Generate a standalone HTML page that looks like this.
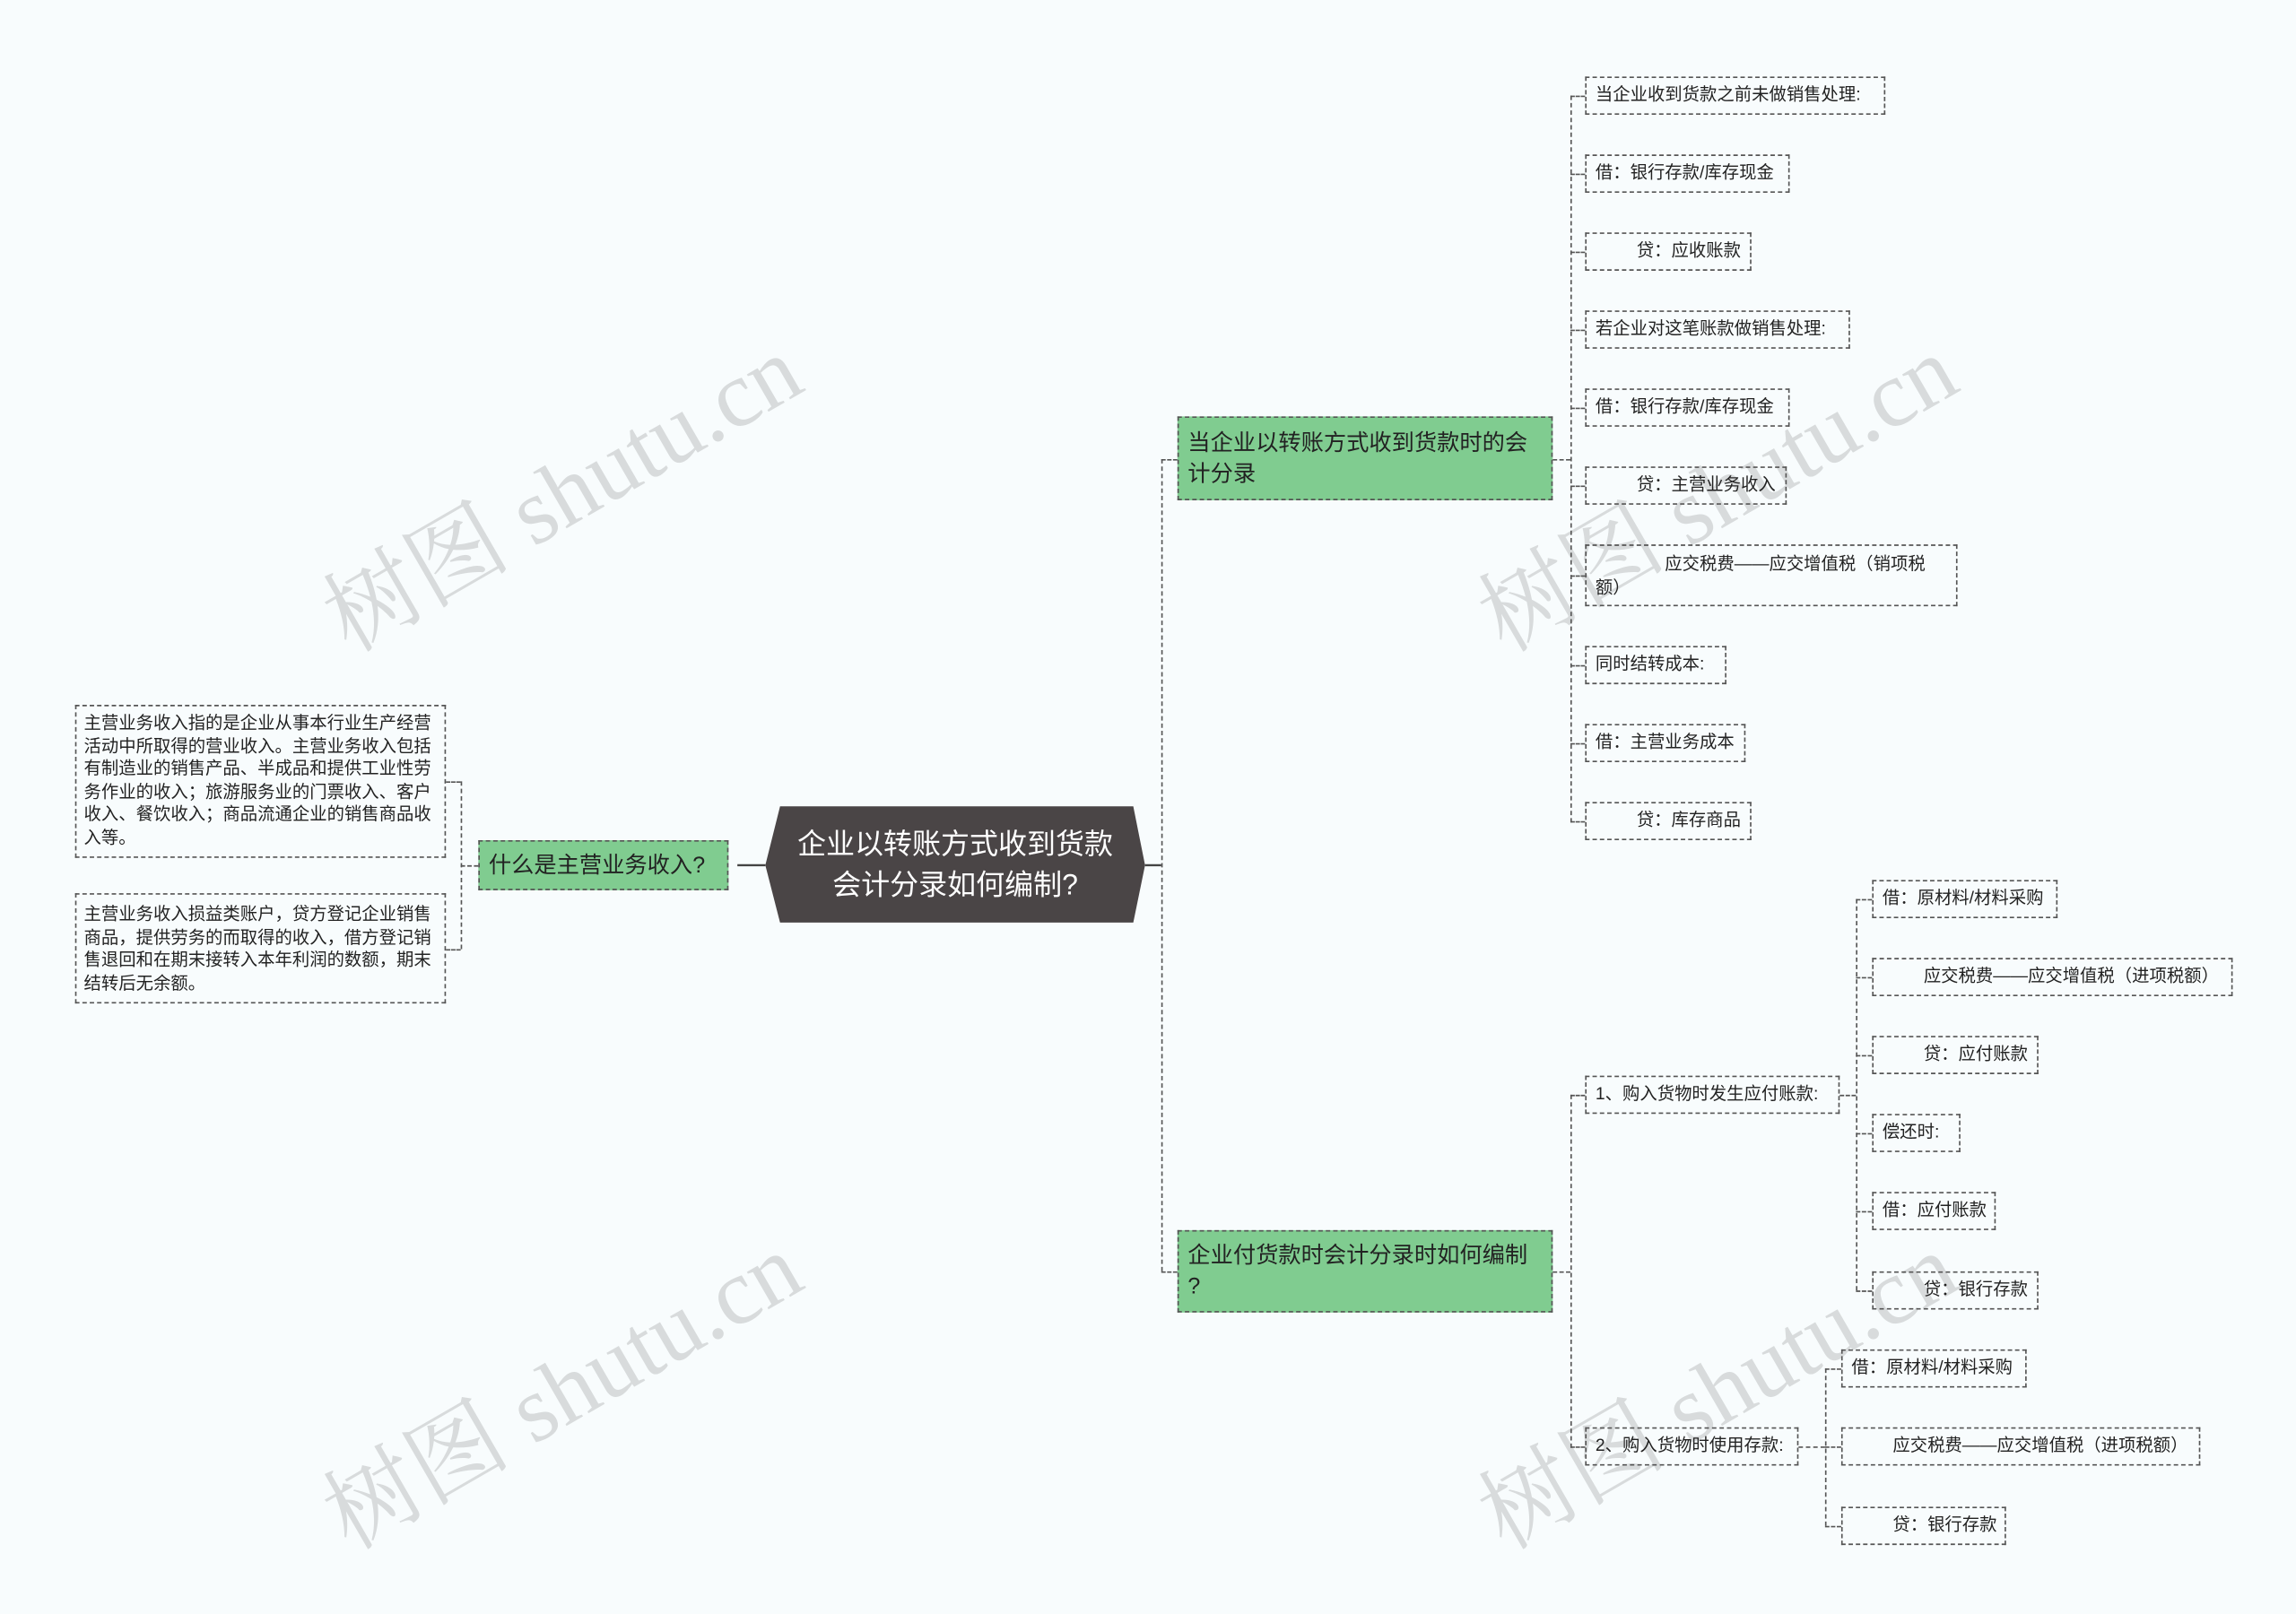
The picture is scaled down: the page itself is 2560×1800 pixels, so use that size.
<!DOCTYPE html>
<html><head><meta charset="utf-8"><style>
html,body{margin:0;padding:0;background:#f8fcfd;}
body{width:2560px;height:1799px;overflow:hidden;position:relative;}
#c{position:absolute;left:0;top:0;width:1560px;height:1096.3px;transform:scale(1.641026);transform-origin:0 0;font-family:"Liberation Sans","Noto Sans CJK SC",sans-serif;}
.b{position:absolute;box-sizing:border-box;border:1px dashed #555;font-size:11.8px;color:#222;line-height:15.5px;padding:5px 6px;white-space:nowrap;display:flex;align-items:center;}
.g{background:#80cc90;font-size:15.4px;line-height:21px;color:#222;white-space:normal;padding-right:14px;}
.t{white-space:normal;display:block;}
.vl{position:absolute;border-left:1px dashed #555;width:0;}
.hl{position:absolute;border-top:1px dashed #555;height:0;}
.wm{position:absolute;font-family:"Liberation Serif","Noto Serif CJK SC",serif;font-size:64px;color:rgba(0,0,0,0.13);transform:rotate(-30deg);white-space:nowrap;}
</style></head><body><div id="c">

<div class="wm" style="left:200px;top:285px;">树图 shutu.cn</div>
<div class="wm" style="left:985px;top:285px;">树图 shutu.cn</div>
<div class="wm" style="left:200px;top:895px;">树图 shutu.cn</div>
<div class="wm" style="left:985px;top:895px;">树图 shutu.cn</div>

<svg style="position:absolute;left:0;top:0" width="1560" height="1097">
<polygon points="530,548 770,548 778,588 770,627 530,627 520,588" fill="#4a4546"/>
<line x1="501" y1="588" x2="520" y2="588" stroke="#444" stroke-width="1.5"/>
<line x1="778" y1="588" x2="789" y2="588" stroke="#444" stroke-width="1.5"/>
</svg>
<div style="position:absolute;left:520px;top:548px;width:258px;height:79px;display:flex;align-items:center;justify-content:center;text-align:center;color:#fff;font-size:19.5px;line-height:28px;">企业以转账方式收到货款<br>会计分录如何编制?</div>

<div class="b g" style="left:325px;top:571px;width:170px;height:34px;padding-right:6px;">什么是主营业务收入?</div>
<div class="vl" style="left:313px;top:531px;height:114px;"></div>
<div class="hl" style="left:303px;top:531px;width:10px;"></div>
<div class="hl" style="left:303px;top:645px;width:10px;"></div>
<div class="hl" style="left:313px;top:588px;width:12px;"></div>
<div class="b t" style="left:51px;top:479px;width:252px;height:104px;padding:4px 5px;">主营业务收入指的是企业从事本行业生产经营活动中所取得的营业收入。主营业务收入包括有制造业的销售产品、半成品和提供工业性劳务作业的收入；旅游服务业的门票收入、客户收入、餐饮收入；商品流通企业的销售商品收入等。</div>
<div class="b t" style="left:51px;top:607px;width:252px;height:75px;padding:6px 5px;">主营业务收入损益类账户，贷方登记企业销售商品，提供劳务的而取得的收入，借方登记销售退回和在期末接转入本年利润的数额，期末结转后无余额。</div>

<div class="vl" style="left:789px;top:312px;height:552px;"></div>
<div class="hl" style="left:789px;top:312px;width:11px;"></div>
<div class="hl" style="left:789px;top:864px;width:11px;"></div>
<div class="b g" style="left:800px;top:283px;width:255px;height:57px;">当企业以转账方式收到货款时的会计分录</div>
<div class="b g" style="left:800px;top:836px;width:255px;height:56px;"><span>企业付货款时会计分录时如何编制<br>?</span></div>

<div class="hl" style="left:1055px;top:312px;width:12px;"></div>
<div class="vl" style="left:1067px;top:65px;height:494px;"></div>
<div class="hl" style="left:1067px;top:65px;width:10px;"></div>
<div class="hl" style="left:1067px;top:118px;width:10px;"></div>
<div class="hl" style="left:1067px;top:171px;width:10px;"></div>
<div class="hl" style="left:1067px;top:224px;width:10px;"></div>
<div class="hl" style="left:1067px;top:277px;width:10px;"></div>
<div class="hl" style="left:1067px;top:330px;width:10px;"></div>
<div class="hl" style="left:1067px;top:391px;width:10px;"></div>
<div class="hl" style="left:1067px;top:452px;width:10px;"></div>
<div class="hl" style="left:1067px;top:505px;width:10px;"></div>
<div class="hl" style="left:1067px;top:558px;width:10px;"></div>
<div class="b" style="left:1077px;top:52px;width:204px;height:26px;">当企业收到货款之前未做销售处理:</div>
<div class="b" style="left:1077px;top:105px;width:139px;height:26px;">借：银行存款/库存现金</div>
<div class="b" style="left:1077px;top:158px;width:113px;height:26px;padding-left:34px;">贷：应收账款</div>
<div class="b" style="left:1077px;top:211px;width:180px;height:26px;">若企业对这笔账款做销售处理:</div>
<div class="b" style="left:1077px;top:264px;width:139px;height:26px;">借：银行存款/库存现金</div>
<div class="b" style="left:1077px;top:317px;width:137px;height:26px;padding-left:34px;">贷：主营业务收入</div>
<div class="b t" style="left:1077px;top:370px;width:253px;height:42px;padding-top:5px;">　　　　应交税费——应交增值税（销项税额）</div>
<div class="b" style="left:1077px;top:439px;width:96px;height:26px;">同时结转成本:</div>
<div class="b" style="left:1077px;top:492px;width:109px;height:26px;">借：主营业务成本</div>
<div class="b" style="left:1077px;top:545px;width:113px;height:26px;padding-left:34px;">贷：库存商品</div>

<div class="hl" style="left:1055px;top:864px;width:12px;"></div>
<div class="vl" style="left:1067px;top:744px;height:240px;"></div>
<div class="hl" style="left:1067px;top:744px;width:10px;"></div>
<div class="hl" style="left:1067px;top:983px;width:10px;"></div>
<div class="b" style="left:1077px;top:731px;width:173px;height:26px;">1、购入货物时发生应付账款:</div>
<div class="b" style="left:1077px;top:970px;width:145px;height:26px;">2、购入货物时使用存款:</div>

<div class="hl" style="left:1250px;top:744px;width:11px;"></div>
<div class="vl" style="left:1261px;top:611px;height:266px;"></div>
<div class="hl" style="left:1261px;top:611px;width:11px;"></div>
<div class="hl" style="left:1261px;top:664px;width:11px;"></div>
<div class="hl" style="left:1261px;top:717px;width:11px;"></div>
<div class="hl" style="left:1261px;top:770px;width:11px;"></div>
<div class="hl" style="left:1261px;top:823px;width:11px;"></div>
<div class="hl" style="left:1261px;top:877px;width:11px;"></div>
<div class="b" style="left:1272px;top:598px;width:126px;height:26px;">借：原材料/材料采购</div>
<div class="b" style="left:1272px;top:651px;width:245px;height:26px;padding-left:34px;">应交税费——应交增值税（进项税额）</div>
<div class="b" style="left:1272px;top:704px;width:113px;height:26px;padding-left:34px;">贷：应付账款</div>
<div class="b" style="left:1272px;top:757px;width:60px;height:26px;">偿还时:</div>
<div class="b" style="left:1272px;top:810px;width:84px;height:26px;">借：应付账款</div>
<div class="b" style="left:1272px;top:864px;width:113px;height:26px;padding-left:34px;">贷：银行存款</div>

<div class="hl" style="left:1222px;top:983px;width:18px;"></div>
<div class="vl" style="left:1240px;top:930px;height:107px;"></div>
<div class="hl" style="left:1240px;top:930px;width:11px;"></div>
<div class="hl" style="left:1240px;top:983px;width:11px;"></div>
<div class="hl" style="left:1240px;top:1037px;width:11px;"></div>
<div class="b" style="left:1251px;top:917px;width:126px;height:26px;">借：原材料/材料采购</div>
<div class="b" style="left:1251px;top:970px;width:244px;height:26px;padding-left:34px;">应交税费——应交增值税（进项税额）</div>
<div class="b" style="left:1251px;top:1024px;width:112px;height:26px;padding-left:34px;">贷：银行存款</div>

</div></body></html>
